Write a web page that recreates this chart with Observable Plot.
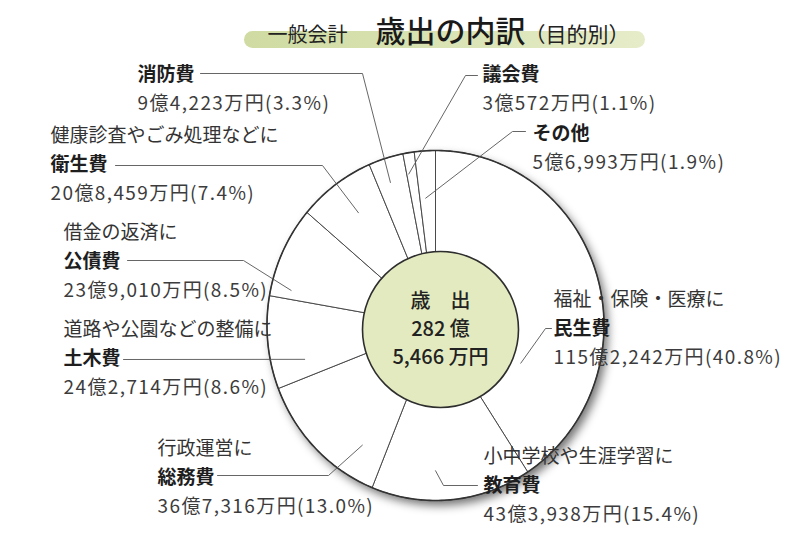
<!DOCTYPE html>
<html><head><meta charset="utf-8">
<script src="https://cdn.jsdelivr.net/npm/d3@7"></script>
<script src="https://cdn.jsdelivr.net/npm/@observablehq/plot@0.6"></script>
<style>
body{margin:0;background:#fff;}
#chart svg{display:block;}
</style></head><body><div id="chart"></div>
<script>
// ---------- data ----------
const titleParts = ["一般会計", "歳出の内訳", "（目的別）"];
const categories = ["民生費","教育費","総務費","土木費","公債費","衛生費","消防費","議会費","その他"];
const descriptions = ["福祉・保険・医療に","小中学校や生涯学習に","行政運営に","道路や公園などの整備に","借金の返済に","健康診査やごみ処理などに","","",""];
const amounts = [1152242, 433938, 367316, 242714, 239010, 208459, 94223, 30572, 56993]; // 万円
const amountLabels = ["115億2,242万円","43億3,938万円","36億7,316万円","24億2,714万円","23億9,010万円","20億8,459万円","9億4,223万円","3億572万円","5億6,993万円"];
const shareLabels = ["40.8%","15.4%","13.0%","8.6%","8.5%","7.4%","3.3%","1.1%","1.9%"];
const centerLines = ["歳　出", "282 億", "5,466 万円"];

// ---------- layout (pixels) ----------
const W = 810, H = 540;
const pieGeo = {cx: 435, cy: 325, rx: 168.5, ry: 175};
const hub = {cx: 440, cy: 329, r: 78, pitch: 28};
const pitch = 29;
// per category: text x, name-row y, leader start x, elbow x, leader row y, tip (fraction inside slice, radius fraction)
const labelLayout = {
  "民生費": {x: 553, y: 328, lx: 551, ex: 545, ly: 328, tf: 0.77, tr: 0.55},
  "教育費": {x: 483, y: 485, lx: 477, ex: 443, ly: 485, tf: 0.60, tr: 0.83},
  "総務費": {x: 157, y: 477, lx: 217, ex: 328, ly: 475, tf: 0.22, tr: 0.81},
  "土木費": {x: 63,  y: 358, lx: 123, ex: null, ly: 359, tf: 0.23, tr: 0.80},
  "公債費": {x: 63,  y: 261, lx: 127, ex: 243, ly: 260, tf: 0.11, tr: 0.88},
  "衛生費": {x: 50,  y: 164, lx: 115, ex: 322, ly: 165, tf: 0.54, tr: 0.79},
  "消防費": {x: 137, y: 74,  lx: 200, ex: 362, ly: 73, tf: 0.42, tr: 0.86},
  "議会費": {x: 482, y: 74,  lx: 477, ex: 465, ly: 75, tf: 0.20, tr: 0.88},
  "その他": {x: 532, y: 133, lx: 525, ex: 512, ly: 131, tf: 0.37, tr: 0.73}
};

// ---------- geometry from data ----------
const arcs = d3.pie().sort(null).value(d => d)(amounts);
const toXY = (theta, r) => ({x: pieGeo.cx + pieGeo.rx * r * Math.sin(theta), y: pieGeo.cy - pieGeo.ry * r * Math.cos(theta)});

const slicePts = [];
arcs.forEach((a, i) => {
  const name = categories[i];
  slicePts.push({name, ...toXY(0, 0)});
  const n = Math.max(2, Math.ceil((a.endAngle - a.startAngle) / 0.01));
  for (let k = 0; k <= n; k++) {
    const t = a.startAngle + (a.endAngle - a.startAngle) * k / n;
    slicePts.push({name, ...toXY(t, 1)});
  }
  slicePts.push({name, ...toXY(0, 0)});
});
const rimPts = d3.range(0, 361).map(k => ({...toXY(k / 360 * 2 * Math.PI, 1)}));

const leaderPts = [];
arcs.forEach((a, i) => {
  const name = categories[i], L = labelLayout[name];
  leaderPts.push({name, x: L.lx, y: L.ly});
  if (L.ex != null) leaderPts.push({name, x: L.ex, y: L.ly});
  const t = a.startAngle + (a.endAngle - a.startAngle) * L.tf;
  leaderPts.push({name, ...toXY(t, L.tr)});
});

const nameRows = categories.map((c, i) => ({x: labelLayout[c].x, y: labelLayout[c].y, text: c}));
const descRows = categories.map((c, i) => ({x: labelLayout[c].x, y: labelLayout[c].y - pitch, text: descriptions[i]})).filter(d => d.text);
const valueRows = categories.map((c, i) => ({x: labelLayout[c].x, y: labelLayout[c].y + pitch, text: `${amountLabels[i]}(${shareLabels[i]})`}));
const hubRows = centerLines.map((t, i) => ({x: hub.cx, y: hub.cy + (i - 1) * hub.pitch, text: t}));

const font = "'Noto Sans CJK JP', 'Noto Sans', sans-serif";

const svg = Plot.plot({
  width: W, height: H, margin: 0,
  x: {domain: [0, W], range: [0, W], axis: null},
  y: {domain: [0, H], range: [0, H], axis: null},
  style: {fontFamily: font, background: "white", overflow: "visible"},
  marks: [
    // title pill
    Plot.line([{x: 252, y: 39}, {x: 636, y: 39}], {x: "x", y: "y", stroke: "url(#pillGrad)", strokeWidth: 17, strokeLinecap: "round"}),
    Plot.text([{x: 267, y: 35, text: titleParts[0]}], {x: "x", y: "y", text: "text", textAnchor: "start", fontSize: 20, fill: "#222", lineAnchor: "middle"}),
    Plot.text([{x: 375, y: 32, text: titleParts[1]}], {x: "x", y: "y", text: "text", textAnchor: "start", fontSize: 30, fontWeight: 500, fill: "#1a1a1a", lineAnchor: "middle"}),
    Plot.text([{x: 524, y: 35, text: titleParts[2]}], {x: "x", y: "y", text: "text", textAnchor: "start", fontSize: 21, fill: "#222", lineAnchor: "middle"}),
    // shadow
    Plot.line(rimPts, {x: "x", y: "y", fill: "#000", fillOpacity: 0.55, stroke: "none", dx: 4, dy: 5, ariaDescription: "shadow"}),
    // slices
    Plot.line(slicePts, {x: "x", y: "y", z: "name", fill: "white", stroke: "#4a4a4a", strokeWidth: 1, strokeLinejoin: "miter"}),
    Plot.line(rimPts, {x: "x", y: "y", stroke: "#333", strokeWidth: 1.6}),
    // leaders
    Plot.line(leaderPts, {x: "x", y: "y", z: "name", stroke: "#555", strokeWidth: 0.9}),
    // hub
    Plot.dot([hub], {x: "cx", y: "cy", r: hub.r, fill: "#e3eabf", stroke: "#2e2e2e", strokeWidth: 1.6}),
    Plot.text(hubRows, {x: "x", y: "y", text: "text", fontSize: 20, fontWeight: 500, fill: "#222", lineAnchor: "middle"}),
    // labels
    Plot.text(descRows, {x: "x", y: "y", text: "text", textAnchor: "start", fontSize: 19, fill: "#333", lineAnchor: "middle"}),
    Plot.text(nameRows, {x: "x", y: "y", text: "text", textAnchor: "start", fontSize: 19, fontWeight: 700, fill: "#1e1e1e", lineAnchor: "middle"}),
    Plot.text(valueRows, {x: "x", y: "y", text: "text", textAnchor: "start", fontSize: 19, fill: "#3c3c3c", lineAnchor: "middle", ariaDescription: "values"})
  ]
});

// defs: gradient + blur
const ns = "http://www.w3.org/2000/svg";
const defs = document.createElementNS(ns, "defs");
defs.innerHTML = `
<linearGradient id="pillGrad" gradientUnits="userSpaceOnUse" x1="243" y1="0" x2="645" y2="0">
  <stop offset="0" stop-color="#cfdba2"/><stop offset="0.5" stop-color="#d9e3b4"/><stop offset="1" stop-color="#e6ecc9"/>
</linearGradient>
<filter id="blurShadow" x="-20%" y="-20%" width="140%" height="140%"><feGaussianBlur stdDeviation="5"/></filter>`;
svg.insertBefore(defs, svg.firstChild);
const sh = svg.querySelector('g[aria-description="shadow"]');
if (sh) sh.setAttribute("filter", "url(#blurShadow)");
const vals = svg.querySelector('g[aria-description="values"]');
if (vals) vals.style.letterSpacing = "1.4px";
document.getElementById("chart").appendChild(svg);
</script>
</body></html>
